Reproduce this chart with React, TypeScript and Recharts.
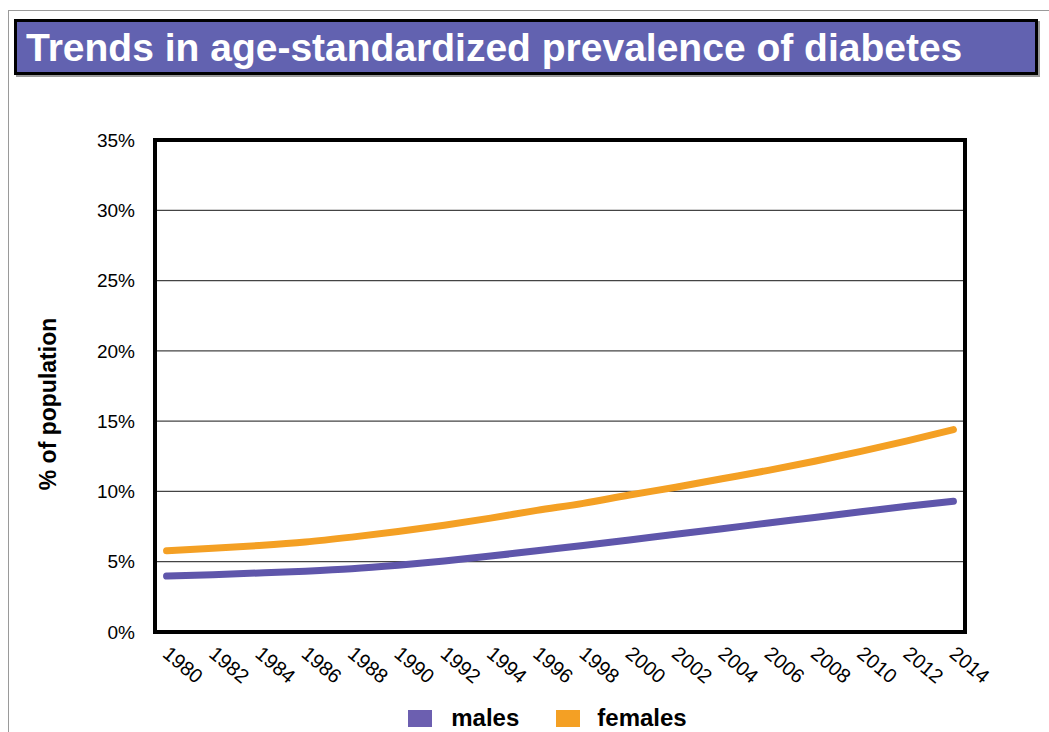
import { LineChart, Line, XAxis, YAxis, CartesianGrid, Legend, ReferenceArea } from 'recharts';

// prevalence (%) by year, every second year
const years = [1980, 1982, 1984, 1986, 1988, 1990, 1992, 1994, 1996, 1998, 2000, 2002, 2004, 2006, 2008, 2010, 2012, 2014];
const males = [3.98, 4.08, 4.2, 4.33, 4.5, 4.75, 5.05, 5.4, 5.78, 6.15, 6.55, 6.95, 7.35, 7.75, 8.15, 8.55, 8.95, 9.3];
const females = [5.78, 5.95, 6.15, 6.4, 6.75, 7.15, 7.6, 8.1, 8.65, 9.15, 9.75, 10.3, 10.9, 11.5, 12.15, 12.85, 13.6, 14.4];
const yTicks = [0, 5, 10, 15, 20, 25, 30, 35];

const data = years.map((year, i) => ({ year, males: males[i], females: females[i] }));

const MALE = '#5f56ab';
const FEMALE = '#f4a024';
const FONT = '"Liberation Sans", Arial, sans-serif';

const YearTick = ({ x, y, payload }: any) => (
    <text x={x + 4} y={y + 5} transform={`rotate(40, ${x + 4}, ${y + 5})`} textAnchor="start" dy="0.71em"
        fontSize={20} fontFamily={FONT} fill="#000">
        {payload.value}
    </text>
);

const LegendContent = () => (
    <div style={{ display: 'flex', justifyContent: 'center', alignItems: 'center', fontFamily: FONT, fontWeight: 'bold', fontSize: 24, paddingLeft: 46 }}>
        <span style={{ width: 24, height: 17, background: '#6c5fb0', marginRight: 19 }} />
        <span style={{ marginRight: 37 }}>males</span>
        <span style={{ width: 24, height: 17, background: FEMALE, marginRight: 17 }} />
        <span>females</span>
    </div>
);

export default function App() {
    return (
        <div style={{ position: 'absolute', left: 0, top: 0, width: 1049, height: 732, overflow: 'hidden', background: '#fff' }}>
            <div style={{ position: 'absolute', left: 8, top: 10, width: 1100, height: 800, borderLeft: '1px solid #9a9a9a', borderTop: '1px solid #9a9a9a' }} />
            <div style={{
                position: 'absolute', left: 14, top: 19, width: 1018, height: 50, background: '#6262b0',
                border: '3px solid #000', boxShadow: '2px 2px 0 #999', boxSizing: 'content-box'
            }}>
                <div style={{ color: '#fff', fontFamily: FONT, fontWeight: 'bold', fontSize: 39, lineHeight: '52px', paddingLeft: 9, whiteSpace: 'nowrap' }}>
                    Trends in age-standardized prevalence of diabetes
                </div>
            </div>
            <div style={{ position: 'absolute', left: 0, top: 0 }}>
                <LineChart width={1049} height={732} data={data} margin={{ top: 140, right: 84, left: 0, bottom: 0 }}>
                    <CartesianGrid vertical={false} stroke="#444" strokeWidth={1.2} />
                    <XAxis dataKey="year" type="number" domain={[1979.5, 2014.5]} ticks={years} interval={0}
                        height={100} axisLine={false} tickLine={false} tick={<YearTick />} />
                    <YAxis width={155} domain={[0, 35]} ticks={yTicks} interval={0} axisLine={false} tickLine={false}
                        tickMargin={14} tickFormatter={(v: number) => `${v}%`}
                        tick={{ fontSize: 19, fill: '#000', fontFamily: FONT }}
                        label={{
                            content: () => (
                                <text x={48} y={404} transform="rotate(-90, 48, 404)" textAnchor="middle" dominantBaseline="central"
                                    fontSize={23} fontWeight="bold" fontFamily={FONT} fill="#000">
                                    % of population
                                </text>
                            )
                        }} />
                    <Line type="monotone" dataKey="females" stroke={FEMALE} strokeWidth={7} strokeLinecap="round" dot={false} isAnimationActive={false} />
                    <Line type="monotone" dataKey="males" stroke={MALE} strokeWidth={7} strokeLinecap="round" dot={false} isAnimationActive={false} />
                    <ReferenceArea y1={0} y2={35} fill="none" stroke="#000" strokeWidth={4} ifOverflow="visible" />
                    <Legend layout="horizontal" verticalAlign="middle" align="center" content={<LegendContent />}
                        wrapperStyle={{ left: 0, top: 704, width: 1049, height: 28 }} />
                </LineChart>
            </div>
        </div>
    );
}
